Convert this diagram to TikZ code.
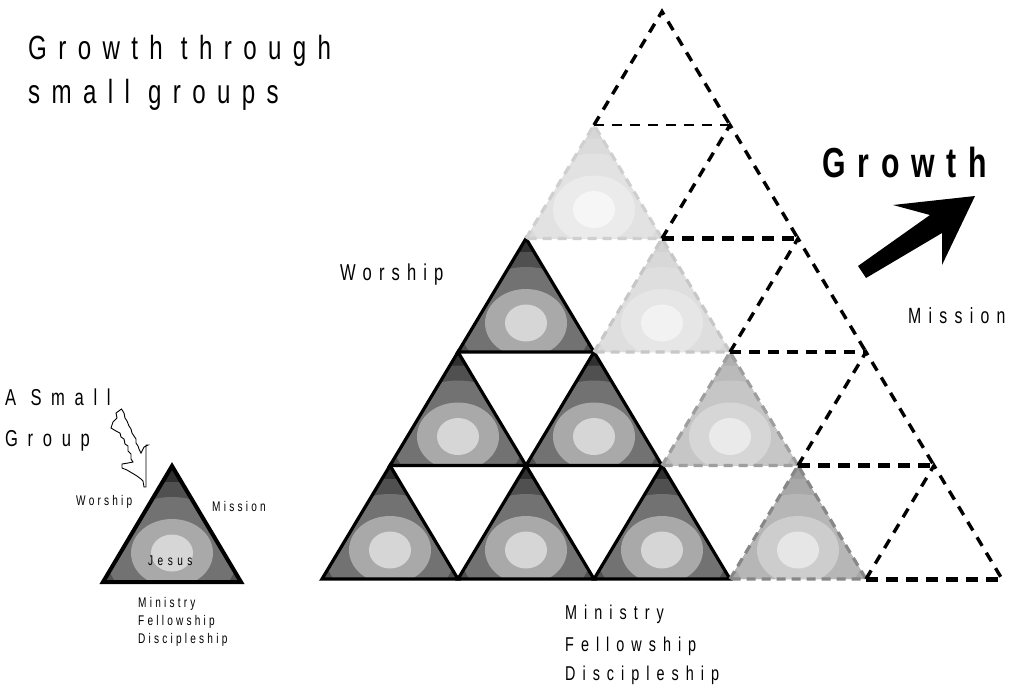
\documentclass[tikz,border=0pt]{standalone}
\usepackage{fontspec}
\newfontfamily\nf[FakeStretch=0.72]{Liberation Sans}
\newcommand\lbl[2]{\nf\fontsize{#1}{#1}\selectfont\addfontfeatures{LetterSpace=#2}}
% palettes
\definecolor{Da}{HTML}{303030}\definecolor{Db}{HTML}{505050}\definecolor{Dc}{HTML}{727272}\definecolor{Dd}{HTML}{A9A9A9}\definecolor{De}{HTML}{D6D6D6}
\definecolor{Aa}{HTML}{9C9C9C}\definecolor{Ab}{HTML}{A8A8A8}\definecolor{Ac}{HTML}{B6B6B6}\definecolor{Ad}{HTML}{CDCDCD}\definecolor{Ae}{HTML}{E6E6E6}
\definecolor{Ba}{HTML}{B0B0B0}\definecolor{Bb}{HTML}{BABABA}\definecolor{Bc}{HTML}{C6C6C6}\definecolor{Bd}{HTML}{D6D6D6}\definecolor{Be}{HTML}{EAEAEA}
\definecolor{Ca}{HTML}{D2D2D2}\definecolor{Cb}{HTML}{D8D8D8}\definecolor{Cc}{HTML}{DEDEDE}\definecolor{Cd}{HTML}{E6E6E6}\definecolor{Ce}{HTML}{F2F2F2}
\definecolor{Ea}{HTML}{D6D6D6}\definecolor{Eb}{HTML}{DBDBDB}\definecolor{Ec}{HTML}{E2E2E2}\definecolor{Ed}{HTML}{EBEBEB}\definecolor{Ee}{HTML}{F6F6F6}
% shaded triangle: left x, base y, half side, height, palette letter
\newcommand\shtri[5]{%
  \begin{scope}
    \clip (#1,#2) -- ++(#3,-#4) -- ++(#3,#4) -- cycle;
    \fill[#5a] (#1,#2) rectangle ++(2*#3,-#4);
    \fill[#5b] (#1+#3,#2-29) ellipse [x radius=84, y radius=71];
    \fill[#5c] (#1+#3,#2-29) ellipse [x radius=66, y radius=56];
    \fill[#5d] (#1+#3,#2-29) ellipse [x radius=41, y radius=34];
    \fill[#5e] (#1+#3,#2-29) ellipse [x radius=21, y radius=18.5];
  \end{scope}}
\newcommand\tripath[4]{(#1,#2) -- ++(#3,-#4) -- ++(#3,#4) -- cycle}
\tikzset{
  txt/.style={inner sep=0pt, anchor=base west},
  darkedge/.style={draw=black, line width=3.2pt, line join=miter},
  grayedge/.style={line width=3.2pt, dash pattern=on 9pt off 6pt},
  emptyedge/.style={draw=black, line width=3.4pt, dash pattern=on 10pt off 8pt},
}
\begin{document}
\begin{tikzpicture}[x=1pt,y=-1pt]
\useasboundingbox (0,0) rectangle (1016,697);
\fill[white] (0,0) rectangle (1016,697);

% dark triangles
\foreach \xx/\yy in {322/579,458/579,594/579,390/465.5,526/465.5,458/352}{
  \shtri{\xx}{\yy}{68}{113.5}{D}
  \draw[darkedge] \tripath{\xx}{\yy}{68}{113.5};
}
% gray triangles
\shtri{730}{579}{68}{113.5}{A}
\draw[grayedge, draw=black!47] \tripath{730}{579}{68}{113.5};
\shtri{662}{465.5}{68}{113.5}{B}
\draw[grayedge, draw=black!38] \tripath{662}{465.5}{68}{113.5};
\shtri{594}{352}{68}{113.5}{C}
\draw[grayedge, draw=black!22] \tripath{594}{352}{68}{113.5};
\shtri{526}{238.5}{68}{113.5}{E}
\draw[grayedge, draw=black!19] \tripath{526}{238.5}{68}{113.5};

% empty dashed triangles (slanted edges)
\foreach \xx/\yy in {866/579,798/465.5,730/352,662/238.5,594/125}{
  \draw[emptyedge] (\xx,\yy) -- ++(68,-113.5) -- ++(68,113.5);
}
% bases
\draw[draw=black, line width=2.4pt, dash pattern=on 10pt off 8pt] (594,125) -- (730,125);
\draw[draw=black, line width=5pt, dash pattern=on 12pt off 8pt] (662,238.5) -- (798,238.5);
\draw[draw=black, line width=3.8pt, dash pattern=on 11pt off 8pt] (730,352) -- (866,352);
\draw[draw=black, line width=5pt, dash pattern=on 12pt off 8pt] (798,465.5) -- (934,465.5);
\draw[draw=black, line width=5pt, dash pattern=on 12pt off 8pt] (866,579) -- (1002,579);

% growth arrow
\fill[black] (858,266) -- (930,215) -- (893,205) -- (975,196) -- (942,265) -- (942,233) -- (866,278) -- cycle;

% small group triangle
\shtri{103}{582}{69}{116}{D}
\draw[darkedge, line width=4pt] \tripath{103}{582}{69}{116};

% jagged arrow
\draw[black, line width=0.9pt, line join=miter]
 (121.5,409) -- (116,413) -- (117,418) -- (113,422) -- (111,428) -- (116,431) -- (120,433)
 -- (121,437) -- (124,439) -- (125,444) -- (128,446) -- (128,451) -- (131,454) -- (131,459)
 -- (133,462) -- (128,463) -- (122,464) -- (122,468) -- (127,470) -- (132,473) -- (137,476)
 -- (141,479) -- (143,481) -- (144,487) -- (146,487) -- (146,445) -- (148,445) -- (144,447)
 -- (141,453) -- (139,449) -- (138,446) -- (136,443) -- (136,439) -- (134,436) -- (132,433)
 -- (131,429) -- (129,426) -- (127,421) -- (125,418) -- (124,413) -- cycle;

% texts
\node[txt, font=\lbl{33.5}{34}] (t1) at (28,59) {Growth through};
\node[txt, font=\lbl{33.5}{34}] (t2) at (28,103) {small groups};
\node[txt, font=\lbl{42}{28}\bfseries] (gr) at (822,177) {Growth};
\node[txt, font=\lbl{22}{33}] (mis) at (908,323) {Mission};
\node[txt, font=\lbl{23}{31}] (wor) at (340,280) {Worship};
\node[txt, font=\lbl{20}{35}] (m1) at (565,619) {Ministry};
\node[txt, font=\lbl{20}{35}] (m2) at (565,651) {Fellowship};
\node[txt, font=\lbl{20}{35}] (m3) at (565,680) {Discipleship};
\node[txt, font=\lbl{23}{42}] (as1) at (5,405) {A Small};
\node[txt, font=\lbl{23}{42}] (as2) at (5,446) {Group};
\node[txt, font=\lbl{14}{23}] (sw) at (76,505) {Worship};
\node[txt, font=\lbl{14}{23}] (sm) at (212,511) {Mission};
\node[txt, font=\lbl{14}{32}] (je) at (148,565) {Jesus};
\node[txt, font=\lbl{14}{23}] (s1) at (138,607) {Ministry};
\node[txt, font=\lbl{14}{23}] (s2) at (138,625) {Fellowship};
\node[txt, font=\lbl{14}{23}] (s3) at (138,643) {Discipleship};
\end{tikzpicture}
\end{document}
